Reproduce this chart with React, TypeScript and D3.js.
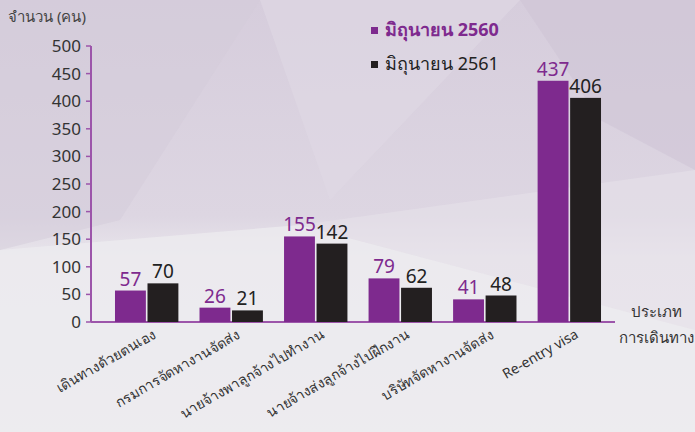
import React from "react";
import * as d3 from "d3";

const categories = [
  "เดินทางด้วยตนเอง",
  "กรมการจัดหางานจัดส่ง",
  "นายจ้างพาลูกจ้างไปทำงาน",
  "นายจ้างส่งลูกจ้างไปฝึกงาน",
  "บริษัทจัดหางานจัดส่ง",
  "Re-entry visa",
];
const series2560 = [57, 26, 155, 79, 41, 437];
const series2561 = [70, 21, 142, 62, 48, 406];
const seriesNames = ["มิถุนายน 2560", "มิถุนายน 2561"];
const yTicks = [0, 50, 100, 150, 200, 250, 300, 350, 400, 450, 500];

const W = 695;
const H = 432;
const PURPLE = "#7e2a8e";
const BLACK = "#231f20";
const AXIS = "#9c55aa";
const FONT = "Tahoma, 'Noto Sans', 'DejaVu Sans', sans-serif";

export default function App() {
  const y = d3.scaleLinear().domain([0, 500]).range([322, 46]);
  const x0 = d3.scaleBand<string>().domain(categories).range([104, 612]).paddingInner(0.25).paddingOuter(0.13);
  const x1 = d3.scaleBand<number>().domain([0, 1]).range([0, x0.bandwidth()]).paddingInner(0.05);
  const series = [series2560, series2561];
  const colors = [PURPLE, BLACK];

  return (
    <svg width={W} height={H} style={{ position: "absolute", left: 0, top: 0 }}>
      <defs>
        <linearGradient id="bg" x1="0" y1="0" x2="0" y2="1">
          <stop offset="0" stopColor="#d6cddc" />
          <stop offset="0.5" stopColor="#ddd6e2" />
          <stop offset="0.6" stopColor="#e9e6ec" />
          <stop offset="1" stopColor="#eeedf0" />
        </linearGradient>
      </defs>
      <rect width={W} height={H} fill="url(#bg)" />
      {/* faceted background */}
      <polygon points="0,0 260,0 120,220 0,250" fill="#d4cbda" opacity={0.5} />
      <polygon points="260,0 520,0 330,200" fill="#e0d9e4" opacity={0.6} />
      <polygon points="520,0 695,0 695,170 600,120" fill="#cfc5d6" opacity={0.6} />
      <polygon points="0,250 300,225 695,330 695,432 0,432" fill="#ecebef" opacity={0.8} />
      <polygon points="300,225 695,170 695,330" fill="#e6e1ea" opacity={0.6} />

      <text x={8} y={22} fontFamily={FONT} fontSize={15} fill="#444">จำนวน (คน)</text>

      {/* axes */}
      <line x1={91} x2={91} y1={y(500)} y2={y(0)} stroke={AXIS} strokeWidth={2} />
      <line x1={91} x2={615} y1={y(0)} y2={y(0)} stroke={AXIS} strokeWidth={2} />
      {yTicks.map((t) => (
        <g key={t}>
          <line x1={86} x2={91} y1={y(t)} y2={y(t)} stroke={AXIS} strokeWidth={1.5} />
          <text x={81} y={y(t)} dy="0.35em" textAnchor="end" fontFamily={FONT} fontSize={17} fill="#333">
            {t}
          </text>
        </g>
      ))}

      {categories.map((c, i) => (
        <g key={c} transform={`translate(${x0(c)},0)`}>
          {series.map((s, j) => (
            <g key={j}>
              <rect x={x1(j)} y={y(s[i])} width={x1.bandwidth()} height={y(0) - y(s[i])} fill={colors[j]} />
              <text
                x={(x1(j) as number) + x1.bandwidth() / 2}
                y={y(s[i]) - 5}
                textAnchor="middle"
                fontFamily={FONT}
                fontSize={19}
                fill={j === 0 ? PURPLE : "#222"}
              >
                {s[i]}
              </text>
            </g>
          ))}
        </g>
      ))}

      {categories.map((c) => {
        const cx = (x0(c) as number) + x0.bandwidth() / 2 + 10;
        return (
          <text
            key={c}
            transform={`translate(${cx},337) rotate(-30)`}
            textAnchor="end"
            fontFamily={FONT}
            fontSize={14}
            fill="#333"
          >
            {c}
          </text>
        );
      })}

      <text x={656} y={317} textAnchor="middle" fontFamily={FONT} fontSize={15} fill="#333">ประเภท</text>
      <text x={656} y={343} textAnchor="middle" fontFamily={FONT} fontSize={15} fill="#333">การเดินทาง</text>

      {/* legend */}
      {seriesNames.map((n, j) => (
        <g key={n} transform={`translate(371,${30 + j * 34})`}>
          <rect x={0} y={-3} width={7} height={7} fill={colors[j]} />
          <text x={14} y={6} fontFamily={FONT} fontSize={18} fill={j === 0 ? PURPLE : "#222"} fontWeight={j === 0 ? "bold" : "normal"}>
            {n}
          </text>
        </g>
      ))}
    </svg>
  );
}
